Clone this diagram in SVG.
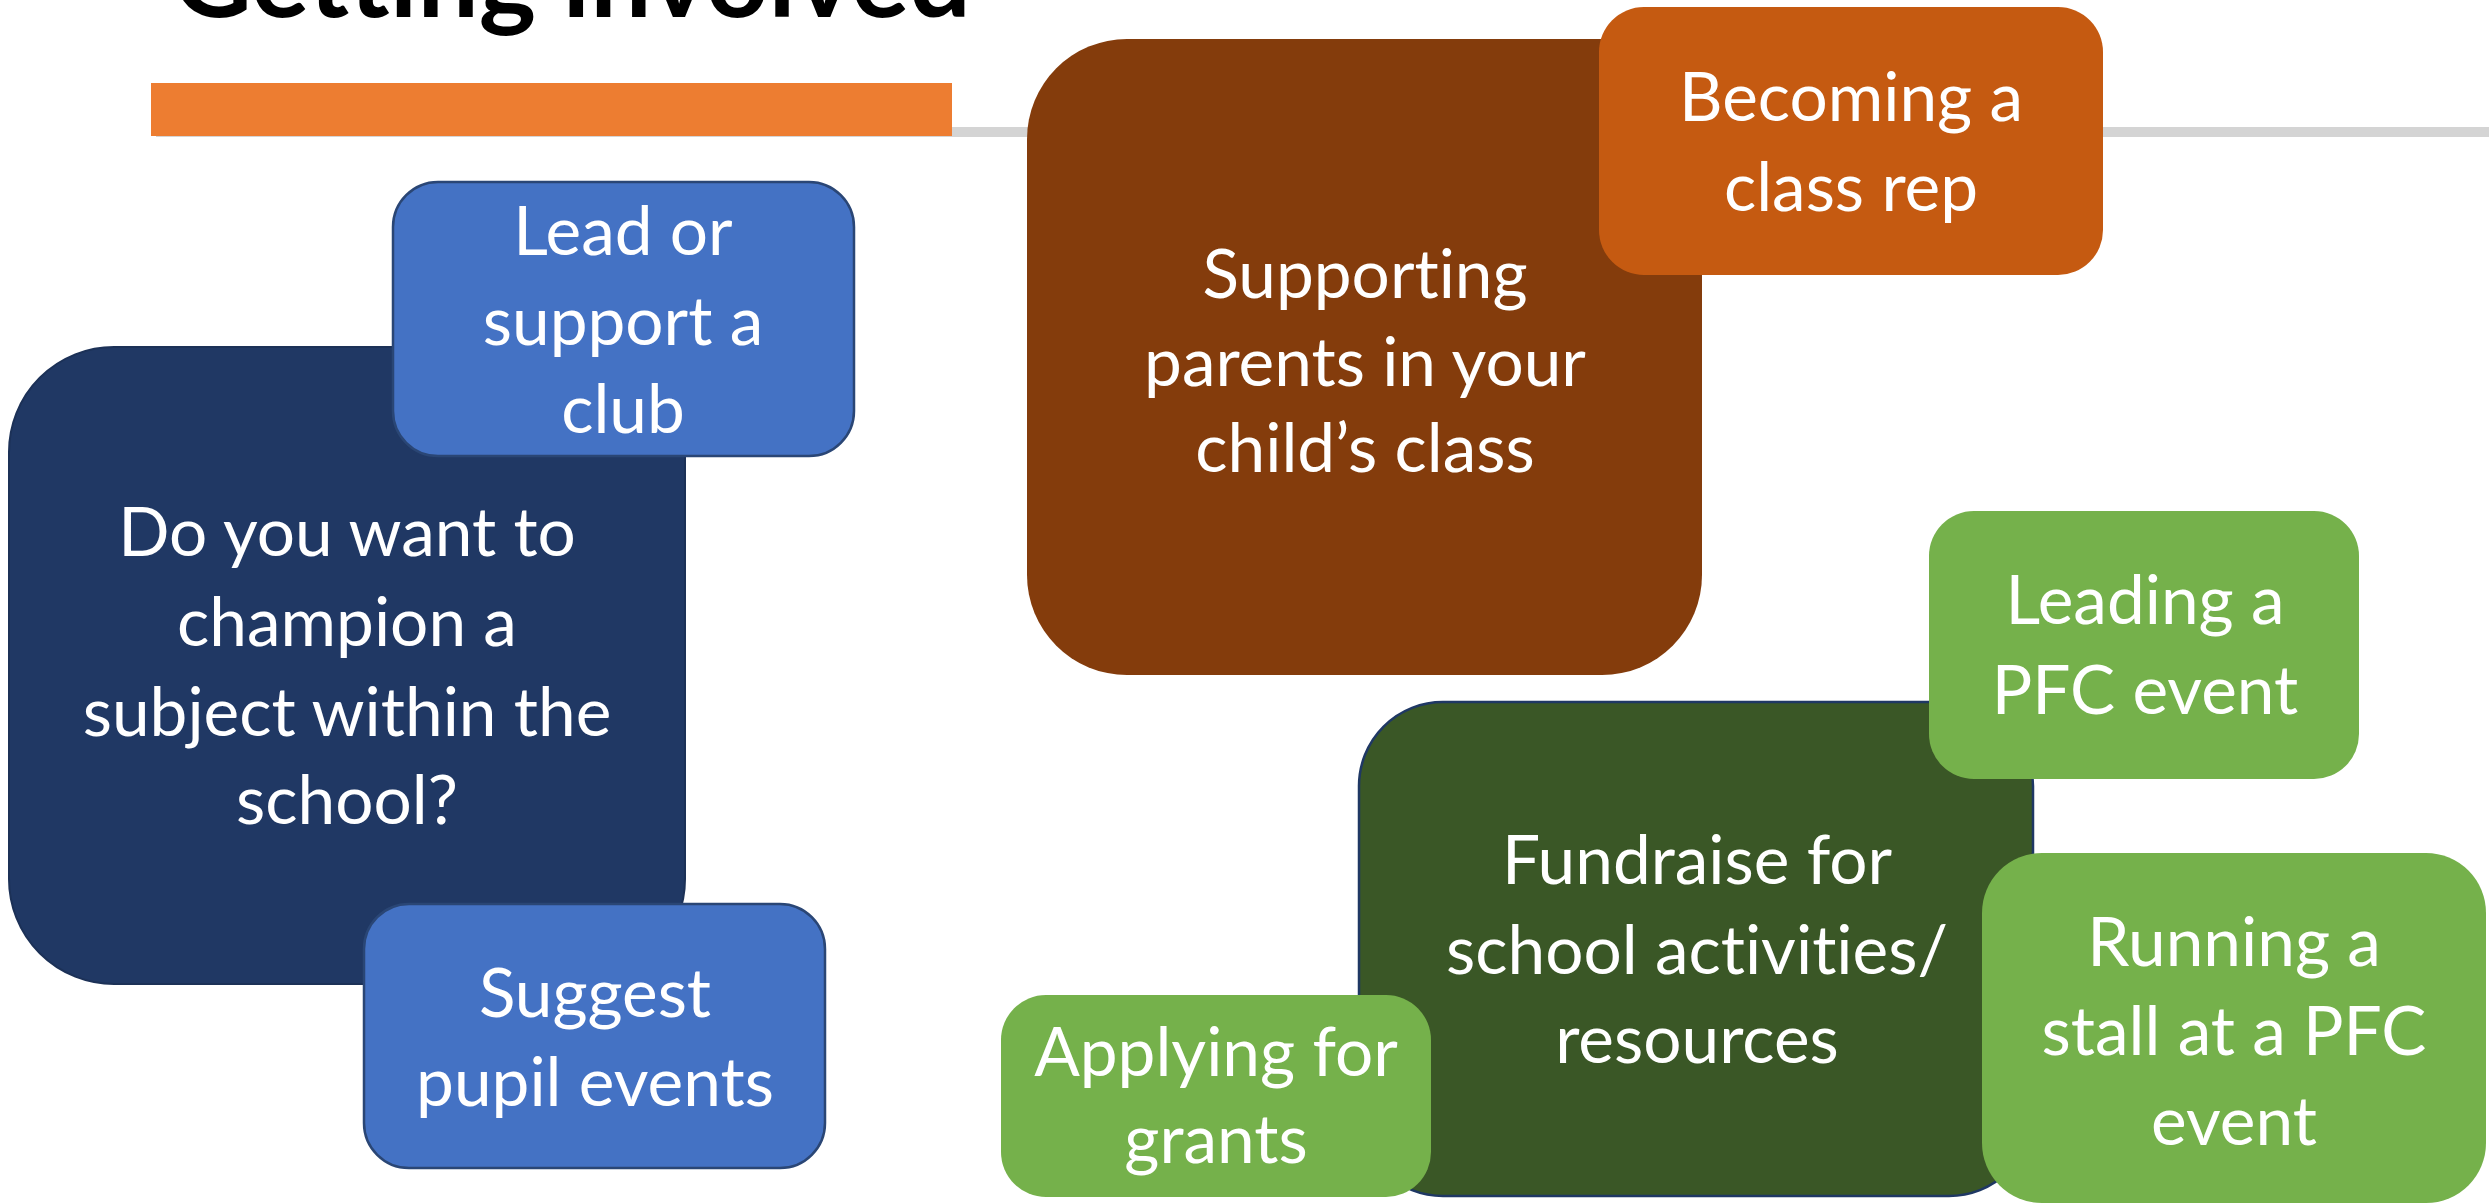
<svg xmlns="http://www.w3.org/2000/svg" width="2489" height="1204" viewBox="0 0 2489 1204">
<style>
text{font-family:Lato,"Open Sans","Liberation Sans",sans-serif;fill:#fff;font-size:67.5px;text-anchor:middle;font-variant-ligatures:none;font-feature-settings:"liga" 0}
.title{fill:#000;font-weight:bold;font-size:108px;text-anchor:start}
.navy{fill:#203864;stroke:#1c3157;stroke-width:2}
.blue{fill:#4472C4;stroke:#2a4675;stroke-width:2.5}
.brown{fill:#843C0C}
.orange{fill:#C55A11}
.dgreen{fill:#3A5726;stroke:#1F3864;stroke-width:2.5}
.lgreen{fill:#75B14B}
</style>
<g id="header">
<text class="title" x="173" y="17" textLength="798" lengthAdjust="spacingAndGlyphs">Getting involved</text>
<rect x="156" y="127" width="2333" height="10" fill="#D4D4D4"/>
<rect x="151" y="83" width="801" height="53" fill="#ED7D31"/>
</g>
<g id="champion">
<rect class="navy" x="9" y="347" width="676" height="637" rx="105"/>
<text x="347" y="556">Do you want to</text>
<text x="347" y="646">champion a</text>
<text x="347" y="736">subject within the</text>
<text x="347" y="824">school?</text>
</g>
<g id="club">
<rect class="blue" x="393" y="182" width="461" height="274" rx="45"/>
<text x="623" y="255">Lead or</text>
<text x="623" y="345">support a</text>
<text x="623" y="433">club</text>
</g>
<g id="pupil-events">
<rect class="blue" x="364" y="904" width="461" height="264" rx="45"/>
<text x="595" y="1017">Suggest</text>
<text x="595" y="1106">pupil events</text>
</g>
<g id="supporting">
<rect class="brown" x="1027" y="39" width="675" height="636" rx="100"/>
<text x="1365" y="298">Supporting</text>
<text x="1365" y="386">parents in your</text>
<text x="1365" y="472">child’s class</text>
</g>
<g id="class-rep">
<rect class="orange" x="1599" y="7" width="504" height="268" rx="45"/>
<text x="1851" y="121">Becoming a</text>
<text x="1851" y="211">class rep</text>
</g>
<g id="fundraise">
<rect class="dgreen" x="1359" y="702" width="674" height="494" rx="84"/>
<text x="1697" y="884">Fundraise for</text>
<text x="1697" y="974">school activities/</text>
<text x="1697" y="1063">resources</text>
</g>
<g id="leading">
<rect class="lgreen" x="1929" y="511" width="430" height="268" rx="45"/>
<text x="2145" y="624">Leading a</text>
<text x="2145" y="714">PFC event</text>
</g>
<g id="stall">
<rect class="lgreen" x="1982" y="853" width="504" height="350" rx="60"/>
<text x="2234" y="966">Running a</text>
<text x="2234" y="1055">stall at a PFC</text>
<text x="2234" y="1145">event</text>
</g>
<g id="grants">
<rect class="lgreen" x="1001" y="995" width="430" height="202" rx="45"/>
<text x="1216" y="1076">Applying for</text>
<text x="1216" y="1163">grants</text>
</g>
<g id="connectors"/>
</svg>
